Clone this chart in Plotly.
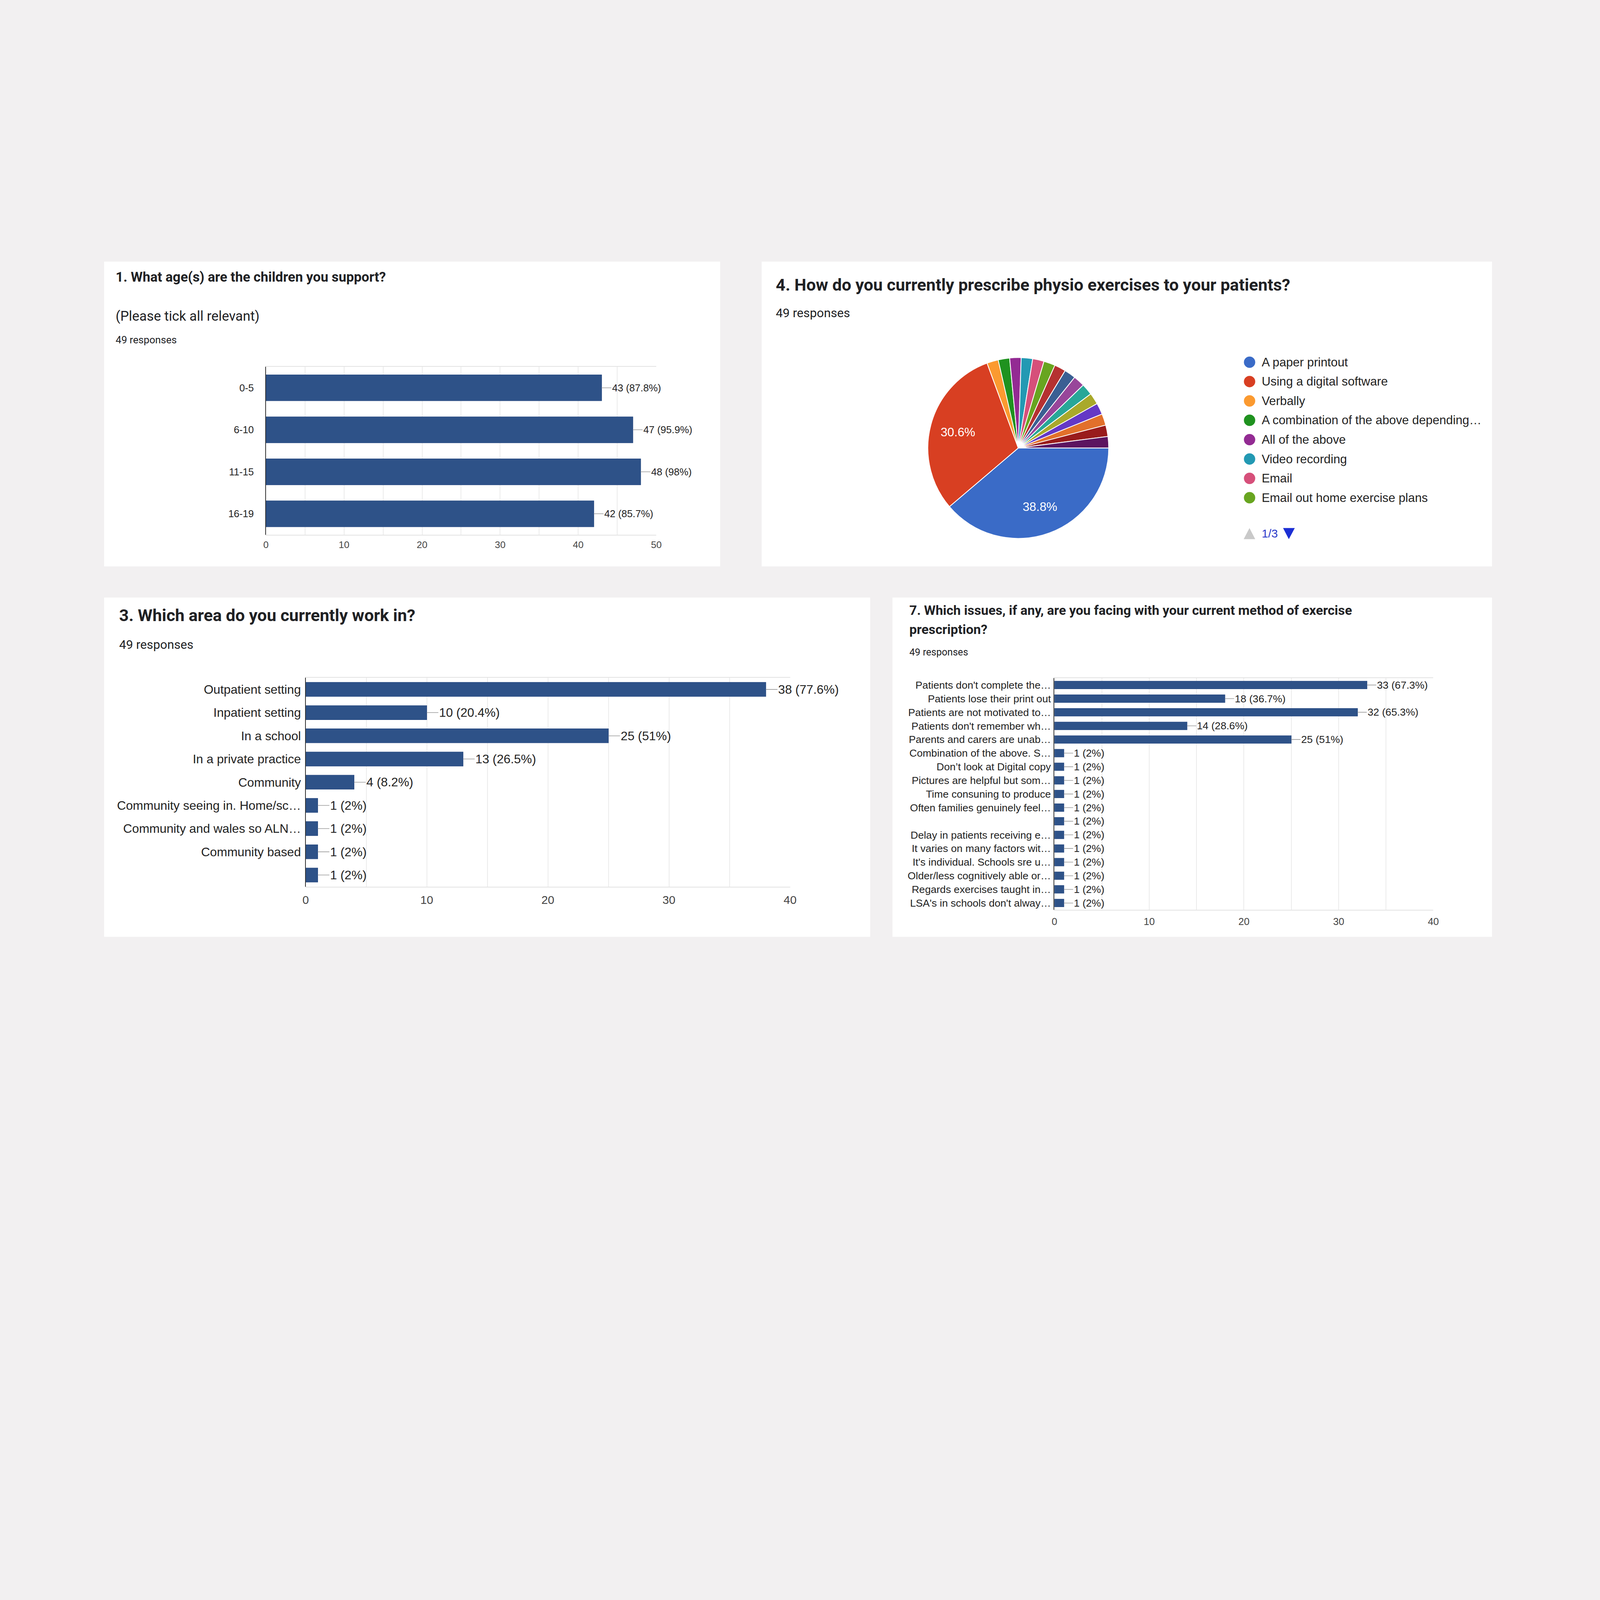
import math

import plotly.graph_objects as go

# Layout is measured on the 8000x6000 reference; the browser window is only
# 4096 wide, so everything is drawn at scale S.
W, H = 8000, 6000
S = 4096 / W


def fx(p):
    return p / W


def fy(p):
    return 1 - p / H


def sz(v):
    return v * S


ROBOTO = "Roboto, Arial, sans-serif"
ARIAL = "Arial, Liberation Sans, sans-serif"
INK = "#202124"
LABEL = "#222222"
BAR = "#2e5288"
BAR_EDGE = "#24467f"
GRID = "#ebebeb"
FRAME = "#e3e3e3"
PAGE_BG = "#f2f0f1"

N_RESP = 49

# --- data -------------------------------------------------------------
age_groups = ["0-5", "6-10", "11-15", "16-19"]
age_counts = [43, 47, 48, 42]

area_labels = [
    "Outpatient setting",
    "Inpatient setting",
    "In a school",
    "In a private practice",
    "Community",
    "Community seeing in. Home/sc…",
    "Community and wales so ALN…",
    "Community based",
    " ",
]
area_counts = [38, 10, 25, 13, 4, 1, 1, 1, 1]

method_labels = [
    "A paper printout",
    "Using a digital software",
    "Verbally",
    "A combination of the above depending…",
    "All of the above",
    "Video recording",
    "Email",
    "Email out home exercise plans",
    "Other answer 9",
    "Other answer 10",
    "Other answer 11",
    "Other answer 12",
    "Other answer 13",
    "Other answer 14",
    "Other answer 15",
    "Other answer 16",
    "Other answer 17",
]
method_counts = [19, 15, 1, 1, 1, 1, 1, 1, 1, 1, 1, 1, 1, 1, 1, 1, 1]
method_colors = [
    "#3a6bc7", "#d83f22", "#fb9a30", "#1f921f", "#932b93", "#2399b3",
    "#d6507a", "#68a520", "#b53131", "#3a5f93", "#98469a", "#28a798",
    "#a9a92b", "#6438c6", "#e2702b", "#991c1c", "#5c1560",
]

issue_labels = [
    "Patients don't complete the…",
    "Patients lose their print out",
    "Patients are not motivated to…",
    "Patients don't remember wh…",
    "Parents and carers are unab…",
    "Combination of the above. S…",
    "Don’t look at Digital copy",
    "Pictures are helpful but som…",
    "Time consuning to produce",
    "Often families genuinely feel…",
    " ",
    "Delay in patients receiving e…",
    "It varies on many factors wit…",
    "It's individual. Schools sre u…",
    "Older/less cognitively able or…",
    "Regards exercises taught in…",
    "LSA's in schools don't alway…",
]
issue_counts = [33, 18, 32, 14, 25, 1, 1, 1, 1, 1, 1, 1, 1, 1, 1, 1, 1]


def count_label(v):
    return f"{v} ({round(v / N_RESP * 100, 1):g}%)"


fig = go.Figure()

# --- bar charts -------------------------------------------------------
bar_sets = [
    ("x", "y", age_groups, age_counts, 0.38),
    ("x2", "y2", area_labels, area_counts, 0.39),
    ("x3", "y3", issue_labels, issue_counts, 0.43),
]
for xa, ya, cats, vals, gap in bar_sets:
    fig.add_trace(
        go.Bar(
            x=vals,
            y=cats,
            orientation="h",
            xaxis=xa,
            yaxis=ya,
            marker=dict(color=BAR, line=dict(color=BAR_EDGE, width=sz(2))),
            width=1 - gap,
            hovertemplate="%{y}: %{x}<extra></extra>",
            showlegend=False,
        )
    )

# --- pie --------------------------------------------------------------
PIE_X = (4652, 5562)
PIE_Y = (1785, 2695)
PIE_ROT = 90
fig.add_trace(
    go.Pie(
        labels=method_labels,
        values=method_counts,
        textinfo="none",
        marker=dict(colors=method_colors, line=dict(color="white", width=sz(4))),
        sort=False,
        direction="clockwise",
        rotation=PIE_ROT,
        domain=dict(x=[fx(PIE_X[0]), fx(PIE_X[1])], y=[fy(PIE_Y[1]), fy(PIE_Y[0])]),
        showlegend=False,
        hoverinfo="label+value+percent",
    )
)


def xaxis_cfg(x0, x1, anchor, top, font_size, standoff):
    return dict(
        domain=[fx(x0), fx(x1)],
        anchor=anchor,
        range=[0, top],
        dtick=10,
        showgrid=True,
        gridcolor=GRID,
        gridwidth=sz(3),
        minor=dict(dtick=5, showgrid=True, gridcolor=GRID, gridwidth=sz(3)),
        showline=True,
        mirror=True,
        linecolor=FRAME,
        linewidth=sz(3),
        zeroline=False,
        ticks="",
        ticklabelstandoff=round(sz(standoff)),
        tickfont=dict(family=ARIAL, size=sz(font_size), color="#444444"),
        fixedrange=True,
    )


def yaxis_cfg(y0, y1, anchor, font_size, standoff):
    return dict(
        domain=[fy(y1), fy(y0)],
        anchor=anchor,
        type="category",
        autorange="reversed",
        showgrid=False,
        showline=True,
        linecolor="#333333",
        linewidth=sz(3),
        zeroline=False,
        ticks="",
        ticklabelstandoff=round(sz(standoff)),
        tickfont=dict(family=ARIAL, size=sz(font_size), color=LABEL),
        fixedrange=True,
    )


# --- panels, titles ---------------------------------------------------
panels = [
    (508, 1308, 3607, 2832),
    (3816, 1308, 7490, 2832),
    (508, 2988, 4362, 4684),
    (4474, 2988, 7490, 4684),
]
shapes = [
    dict(type="rect", xref="paper", yref="paper",
         x0=fx(a), y0=fy(d), x1=fx(c), y1=fy(b),
         fillcolor="white", line=dict(width=0), layer="below")
    for a, b, c, d in panels
]

texts = [
    # text, x, y(centre), size, bold
    ("1. What age(s) are the children you support?", 562, 1384, 68, True),
    ("(Please tick all relevant)", 562, 1582, 68, False),
    ("49 responses", 562, 1699, 51, False),
    ("4. How do you currently prescribe physio exercises to your patients?", 3883, 1423, 84, True),
    ("49 responses", 3883, 1566, 62, False),
    ("3. Which area do you currently work in?", 580, 3076, 84, True),
    ("49 responses", 580, 3224, 62, False),
    ("7. Which issues, if any, are you facing with your current method of exercise", 4556, 3051, 66, True),
    ("prescription?", 4556, 3148, 66, True),
    ("49 responses", 4556, 3260, 49, False),
]
annotations = [
    dict(text=t, xref="paper", yref="paper", x=fx(x), y=fy(y),
         xanchor="left", yanchor="middle", showarrow=False,
         font=dict(family=ROBOTO, size=sz(s), color=INK, weight=700 if b else 400))
    for t, x, y, s, b in texts
]

# --- value labels with leader lines ----------------------------------
label_sets = [
    ("x", "y", age_groups, age_counts, 50, 48),
    ("x2", "y2", area_labels, area_counts, 62, 58),
    ("x3", "y3", issue_labels, issue_counts, 52, 46),
]
for xa, ya, cats, vals, size, lead in label_sets:
    for c, v in zip(cats, vals):
        annotations.append(
            dict(x=v, y=c, xref=xa, yref=ya, text=count_label(v),
                 showarrow=True, arrowhead=0, arrowwidth=sz(3), arrowcolor="#9a9a9a",
                 ax=sz(lead), ay=0, standoff=0, xanchor="left", yanchor="middle",
                 font=dict(family=ARIAL, size=sz(size), color=LABEL))
        )

# --- pie percentages, only on the large slices -----------------------
cx = (PIE_X[0] + PIE_X[1]) / 2
cy = (PIE_Y[0] + PIE_Y[1]) / 2
r = (PIE_X[1] - PIE_X[0]) / 2
total = sum(method_counts)
cum = 0
for c in method_counts:
    if c >= 5:
        ang = math.radians(PIE_ROT + 360 * (cum + c / 2) / total)
        annotations.append(
            dict(text=f"{round(c / N_RESP * 100, 1):g}%", xref="paper", yref="paper",
                 x=fx(cx + 0.69 * r * math.sin(ang)), y=fy(cy - 0.69 * r * math.cos(ang)),
                 xanchor="center", yanchor="middle", showarrow=False,
                 font=dict(family=ARIAL, size=sz(61), color="white"))
        )
    cum += c

# --- pie legend, first page of three ---------------------------------
for i, (lab, col) in enumerate(zip(method_labels[:8], method_colors[:8])):
    ly = 1811 + i * 96.8
    shapes.append(
        dict(type="circle", xref="paper", yref="paper",
             x0=fx(6242), x1=fx(6299), y0=fy(ly + 28.5), y1=fy(ly - 28.5),
             fillcolor=col, line=dict(width=0))
    )
    annotations.append(
        dict(text=lab, xref="paper", yref="paper", x=fx(6328), y=fy(ly),
             xanchor="left", yanchor="middle", showarrow=False,
             font=dict(family=ARIAL, size=sz(61), color=LABEL))
    )

shapes.append(
    dict(type="path", xref="paper", yref="paper",
         path=f"M {fx(6241)},{fy(2696)} L {fx(6299)},{fy(2696)} L {fx(6270)},{fy(2640)} Z",
         fillcolor="#c9c9c9", line=dict(width=0))
)
shapes.append(
    dict(type="path", xref="paper", yref="paper",
         path=f"M {fx(6439)},{fy(2640)} L {fx(6498)},{fy(2640)} L {fx(6468)},{fy(2696)} Z",
         fillcolor="#1c2fd4", line=dict(width=0))
)
annotations.append(
    dict(text="1/3", xref="paper", yref="paper", x=fx(6328), y=fy(2667),
         xanchor="left", yanchor="middle", showarrow=False,
         font=dict(family=ARIAL, size=sz(58), color="#2a39c9"))
)

fig.update_layout(
    width=round(W * S),
    height=round(H * S),
    margin=dict(l=0, r=0, t=0, b=0),
    paper_bgcolor=PAGE_BG,
    plot_bgcolor="white",
    xaxis=xaxis_cfg(1322, 3286, "y", 50, 48, 6),
    yaxis=yaxis_cfg(1834, 2674, "x", 50, 46),
    xaxis2=xaxis_cfg(1522, 3959, "y2", 40, 58, 14),
    yaxis2=yaxis_cfg(3389, 4433, "x2", 62, 8),
    xaxis3=xaxis_cfg(5289, 7195, "y3", 40, 50, 12),
    yaxis3=yaxis_cfg(3391, 4549, "x3", 52, 4),
    shapes=shapes,
    annotations=annotations,
    showlegend=False,
)

page_css = (
    "document.body.style.margin = '0';"
    f"document.body.style.background = '{PAGE_BG}';"
)
fig.write_html("out.html", post_script=page_css, config={"displayModeBar": False})
